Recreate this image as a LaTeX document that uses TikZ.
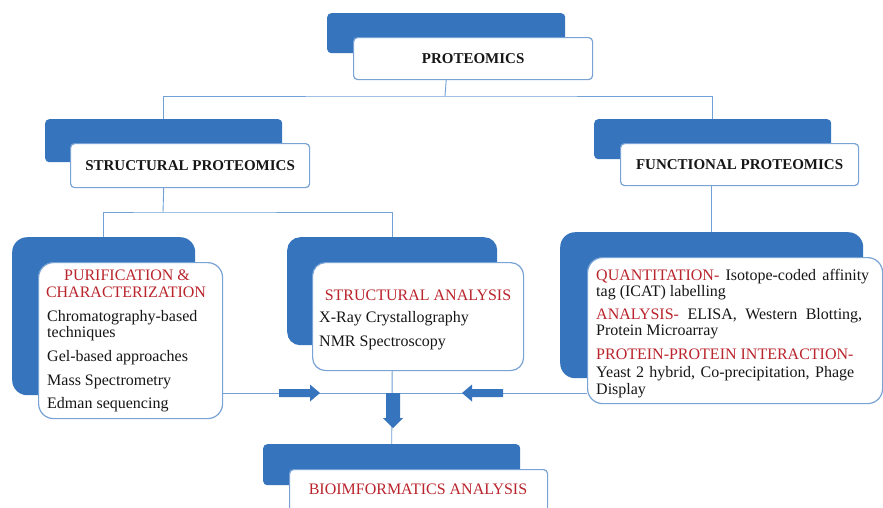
\documentclass[tikz,border=0pt]{standalone}
\usepackage{fontspec}
\setmainfont{Liberation Serif}
\definecolor{boxblue}{RGB}{54,117,189}
\definecolor{linkblue}{RGB}{112,160,212}
\definecolor{rimblue}{RGB}{120,163,212}
\definecolor{headred}{RGB}{186,36,44}
\definecolor{bodytext}{RGB}{22,22,22}
\tikzset{
  back/.style={fill=boxblue, draw=none, rounded corners=#1, anchor=north west, inner sep=0pt},
  front/.style={fill=white, draw=rimblue, line width=1.2pt, rounded corners=#1, anchor=north west, inner sep=0pt},
  link/.style={draw=linkblue, line width=0.9pt},
  title/.style={font=\fontsize{15}{16}\selectfont\bfseries, text=bodytext},
  head/.style={font=\fontsize{16}{17}\selectfont, text=headred, inner sep=0pt, anchor=base},
  body/.style={font=\fontsize{16}{17}\selectfont, text=bodytext, inner sep=0pt, anchor=base west},
  blockarrow/.style={fill=boxblue, draw=none},
}
\newcommand{\red}[1]{\textcolor{headred}{#1}}
\begin{document}
\begin{tikzpicture}[x=1pt, y=-1pt]
\clip (0,0) rectangle (883,507);
\fill[white] (0,0) rectangle (883,507);

% top level
\node[back=4pt, minimum width=238pt, minimum height=40pt] (tpb) at (327,13) {};
\node[front=4pt, minimum width=239pt, minimum height=42pt, title] (tpf) at (353,37) {PROTEOMICS};

% second level
\node[back=4pt, minimum width=237pt, minimum height=43pt] (spb) at (45,119) {};
\node[front=4pt, minimum width=239pt, minimum height=44pt, title] (spf) at (70,143) {STRUCTURAL PROTEOMICS};
\node[back=4pt, minimum width=237pt, minimum height=40pt] (fpb) at (594,119) {};
\node[front=4pt, minimum width=238pt, minimum height=42pt, title] (fpf) at (620,143) {FUNCTIONAL PROTEOMICS};

% third level boxes
\node[back=15pt, minimum width=183pt, minimum height=158pt] (pcb) at (12,237) {};
\node[back=13pt, minimum width=210pt, minimum height=108pt] (sab) at (287,237) {};
\node[back=15pt, minimum width=303pt, minimum height=146pt] (fcb) at (560,232) {};
\node[back=4pt, minimum width=257pt, minimum height=41pt] (bib) at (263,444) {};

% connectors
\coordinate (j1) at (445,96);
\coordinate (j2) at (163,212);
\coordinate (j3) at (392,393);
\draw[link] (tpb.south |- tpf.south) -- (j1);
\draw[link] (spb.north) |- (j1) -| (fpb.north);
\draw[link] (spb.south |- spf.south) -- (j2);
\draw[link] (pcb.north) |- (j2) -| (sab.north);
\draw[link] (fcb.north |- fpf.south) -- (fcb.north);

\node[front=15pt, minimum width=184pt, minimum height=156pt] (pcf) at (38,262) {};
\node[front=13pt, minimum width=211pt, minimum height=108pt] (saf) at (312,262) {};
\node[front=15pt, minimum width=295pt, minimum height=146pt] (fcf) at (587,257) {};
\node[front=4pt, minimum width=258pt, minimum height=45pt] (bif) at (289,469) {};

\draw[link] (pcf.east |- j3) -- (fcf.west |- j3);
\draw[link] (sab.south |- saf.south) -- (bib.north);

% block arrows on the joining line
\coordinate (ra) at (279,393);
\coordinate (la) at (503,393);
\coordinate (da) at (393,393);
\fill[blockarrow] (ra) ++(0,-4) -- ++(31,0) -- ++(0,-4.5) -- ++(10,8.5) -- ++(-10,8.5) -- ++(0,-4.5) -- ++(-31,0) -- cycle;
\fill[blockarrow] (la) ++(0,-4) -- ++(-31,0) -- ++(0,-4.5) -- ++(-10,8.5) -- ++(10,8.5) -- ++(0,-4.5) -- ++(31,0) -- cycle;
\fill[blockarrow] (da) ++(-7,0) -- ++(0,25) -- ++(-3,0) -- ++(10,10) -- ++(10,-10) -- ++(-3,0) -- ++(0,-25) -- cycle;

% purification and characterization
\node[head] (pc1) at (127,280) {PURIFICATION \&};
\node[head] (pc2) at (126,297) {CHARACTERIZATION};
\node[body] (pc3) at (47,321) {Chromatography-based};
\node[body] (pc4) at (47,337) {techniques};
\node[body] (pc5) at (47,361) {Gel-based approaches};
\node[body] (pc6) at (47,385) {Mass Spectrometry};
\node[body] (pc7) at (47,408) {Edman sequencing};

% structural analysis
\node[head] (sa1) at (418,300) {STRUCTURAL ANALYSIS};
\node[body] (sa2) at (319,322) {X-Ray Crystallography};
\node[body] (sa3) at (319,346) {NMR Spectroscopy};

% functional methods
\node[body] (fc1) at (596,280) {\makebox[273pt][s]{\red{QUANTITATION-} Isotope-coded affinity}};
\node[body] (fc2) at (596,296) {tag (ICAT) labelling};
\node[body] (fc3) at (596,319) {\makebox[266pt][s]{\red{ANALYSIS-} ELISA, Western Blotting,}};
\node[body] (fc4) at (596,335) {Protein Microarray};
\node[body] (fc5) at (596,359) {\red{PROTEIN-PROTEIN INTERACTION-}};
\node[body] (fc6) at (596,377) {\makebox[258pt][s]{Yeast 2 hybrid, Co-precipitation, Phage}};
\node[body] (fc7) at (596,394) {Display};

% bottom level
\node[head] (bi1) at (418,494) {BIOIMFORMATICS ANALYSIS};
\end{tikzpicture}
\end{document}
